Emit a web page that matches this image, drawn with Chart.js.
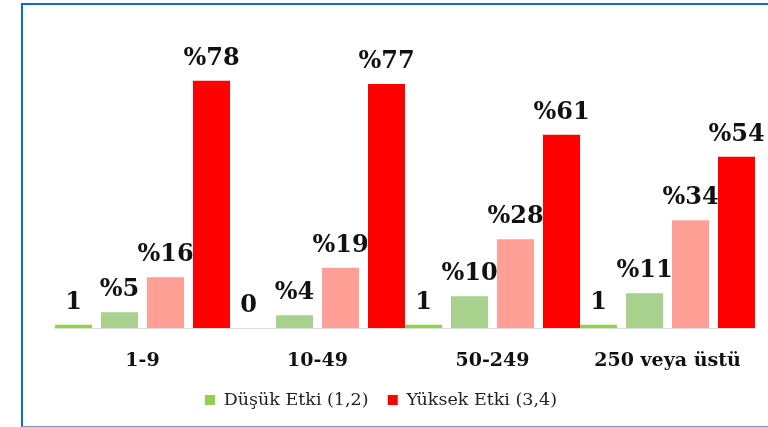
<!DOCTYPE html>
<html lang="tr">
<head>
  <meta charset="UTF-8">
  <title>Etki düzeyi - işletme büyüklüğü</title>
  <script src="https://cdn.jsdelivr.net/npm/chart.js"></script>
  <style>
    html, body { margin: 0; padding: 0; background: #fff; }
    #wrap { position: relative; width: 768px; height: 427px; overflow: hidden; }
    #frame {
      position: absolute; left: 21px; top: 3px; width: 760px; height: 421px;
      border-left: 2px solid #0a6fc2; border-top: 2px solid #0a6fc2;
      border-bottom: 1px solid #5ba3dd; pointer-events: none;
    }
  </style>
</head>
<body>
  <div id="wrap">
    <canvas id="chart" width="768" height="427"></canvas>
    <div id="frame"></div>
  </div>

  <script>
    // values
    const categories = ['1-9', '10-49', '50-249', '250 veya üstü'];
    const etki1 = [1, 0, 1, 1];        // shown without %
    const etki2 = [5, 4, 10, 11];
    const etki3 = [16, 19, 28, 34];
    const etki4 = [78, 77, 61, 54];
    const legendNames = ['Düşük Etki (1,2)', '', '', 'Yüksek Etki (3,4)'];

    const colors = ['#92d050', '#a9d18e', '#ff9f96', '#ff0000'];

    // draws the number above each bar
    const valueLabels = {
      id: 'valueLabels',
      afterDatasetsDraw(chart) {
        const ctx = chart.ctx;
        ctx.save();
        ctx.font = 'bold 24px "DejaVu Serif"';
        ctx.fillStyle = '#111';
        ctx.textAlign = 'center';
        ctx.textBaseline = 'alphabetic';
        chart.data.datasets.forEach((ds, di) => {
          chart.getDatasetMeta(di).data.forEach((bar, i) => {
            const v = ds.data[i];
            const txt = di === 0 ? String(v) : '%' + v;
            ctx.fillText(txt, bar.x, bar.y - 16);
          });
        });
        ctx.restore();
      }
    };

    new Chart(document.getElementById('chart'), {
      type: 'bar',
      data: {
        labels: categories,
        datasets: [etki1, etki2, etki3, etki4].map((d, i) => ({
          label: legendNames[i],
          data: d,
          backgroundColor: colors[i],
          categoryPercentage: 184 / 175,
          barPercentage: 37 / 46
        }))
      },
      options: {
        responsive: false,
        animation: false,
        layout: { padding: { top: 11, left: 7, right: 13, bottom: 8.25 } },
        scales: {
          x: {
            grid: { display: false, drawTicks: false },
            border: { display: true, color: '#d9d9d9', width: 1 },
            ticks: {
              padding: 22,
              color: '#111',
              font: { family: 'DejaVu Serif', size: 19, weight: 'bold' }
            },
            afterFit: s => { s.height = 44; }
          },
          y: {
            min: 0, max: 100,
            grid: { display: false },
            border: { display: false },
            ticks: { display: false },
            afterFit: s => { s.width = 48; }
          }
        },
        plugins: {
          tooltip: { enabled: false },
          legend: {
            position: 'bottom',
            labels: {
              boxWidth: 10,
              boxHeight: 10,
              padding: 19.25,
              color: '#222',
              font: { family: 'DejaVu Serif', size: 17.5 },
              filter: item => item.text !== ''
            }
          }
        }
      },
      plugins: [valueLabels]
    });
  </script>
</body>
</html>
